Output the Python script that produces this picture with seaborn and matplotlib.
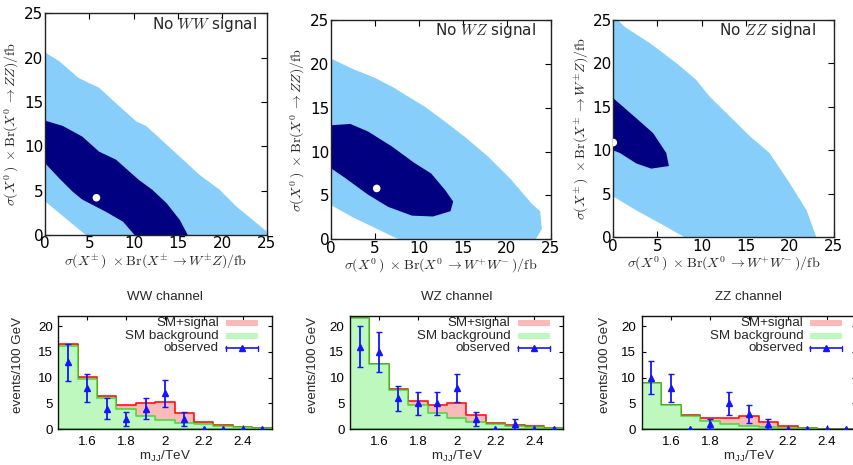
import matplotlib
matplotlib.use("Agg")
import matplotlib.pyplot as plt
from matplotlib.patches import Rectangle
from matplotlib.lines import Line2D
from matplotlib.ticker import FuncFormatter
import numpy as np
import pandas as pd
import seaborn as sns

# ---------------- 2D allowed regions (boundary vertices, in fb) ----------------
# "No WW signal": x = sigma(X+-) Br(WZ), y = sigma(X0) Br(ZZ)
ww_outer_x = [0, 1.6, 3.8, 6.1, 8.4, 10.3, 11.4, 14.8, 17.4, 19.7, 21.6, 25, 25, 4.6, 0]
ww_outer_y = [20.6, 19.6, 17.7, 16.6, 14.5, 12.8, 12.3, 9.2, 6.8, 5.1, 3.2, 0.4, 0, 0, 3.8]
ww_inner_x = [0, 2.0, 4.2, 6.1, 8.0, 10.6, 12.1, 13.7, 15.2, 16.1, 10.1, 8.8, 6.9, 4.2, 3.1, 1.6, 0]
ww_inner_y = [12.9, 12.3, 11.1, 9.4, 8.5, 6.2, 5.1, 3.6, 1.7, 0, 0, 1.5, 2.6, 4.0, 4.9, 6.4, 8.1]
ww_best = (5.8, 4.2)

# "No WZ signal": x = sigma(X0) Br(WW), y = sigma(X0) Br(ZZ)
wz_outer_x = [0, 2.3, 5.0, 7.3, 8.4, 10.7, 13.0, 15.2, 17.9, 20.5, 22.8, 23.8, 24.0, 23.3, 7.7, 5.0, 2.5, 0]
wz_outer_y = [20.6, 19.5, 18.4, 17.2, 16.5, 15.1, 13.4, 11.7, 9.4, 6.8, 4.1, 3.2, 1.2, 0, 0, 1.3, 2.5, 3.9]
wz_inner_x = [0, 2.2, 4.2, 6.9, 9.5, 11.4, 13.0, 13.9, 13.6, 11.6, 9.2, 6.5, 4.2, 1.6, 0]
wz_inner_y = [13.0, 13.15, 12.3, 10.6, 8.7, 7.5, 5.6, 4.3, 3.2, 2.6, 2.7, 3.7, 5.1, 7.0, 8.1]
wz_best = (5.2, 5.8)

# "No ZZ signal": x = sigma(X0) Br(WW), y = sigma(X+-) Br(WZ)
zz_outer_x = [0, 0.5, 1.3, 4.2, 7.2, 9.4, 10.9, 13.2, 15.5, 17.7, 20.0, 21.9, 23.0, 8.1, 5.3, 2.6, 0]
zz_outer_y = [25, 25, 24.2, 22.3, 20.0, 18.1, 16.2, 13.9, 11.6, 9.7, 6.2, 3.1, 0, 0, 1.6, 3.1, 4.7]
zz_inner_x = [0, 2.6, 4.5, 6.0, 6.3, 4.3, 2.6, 0.75, 0]
zz_inner_y = [16.0, 13.7, 12.0, 9.7, 8.2, 7.9, 8.5, 9.7, 10.0]
zz_best = (0.0, 10.9)

# ---------------- dijet mass spectra (events / 100 GeV) ----------------
mass_centers = [1.5, 1.6, 1.7, 1.8, 1.9, 2.0, 2.1, 2.2, 2.3, 2.4, 2.5]

ww_sm_signal = [16.45, 10.1, 6.5, 4.7, 5.1, 5.2, 3.15, 1.35, 0.8, 0.5, 0.3]
ww_sm_bkg = [16.15, 9.75, 6.1, 3.95, 2.6, 1.8, 1.3, 0.95, 0.65, 0.45, 0.25]
ww_obs = [13, 8, 4, 2, 4, 7, 2, 0, 0, 0, 0]
ww_err = [3.6, 2.8, 2.0, 1.4, 2.0, 2.6, 1.4, 0, 0, 0, 0]

wz_sm_signal = [21.6, 12.6, 7.9, 5.5, 4.7, 5.1, 2.8, 1.3, 0.8, 0.6, 0.3]
wz_sm_bkg = [21.6, 12.55, 7.6, 4.7, 3.1, 2.1, 1.4, 1.0, 0.65, 0.45, 0.3]
wz_obs = [16, 15, 6, 5, 5, 8, 2, 0, 1, 0, 0]
wz_err = [4.0, 3.9, 2.4, 2.2, 2.2, 2.8, 1.4, 0, 1.0, 0, 0]

zz_sm_signal = [9.0, 4.8, 2.8, 2.25, 2.1, 2.5, 1.5, 0.65, 0.3, 0.15, 0.1]
zz_sm_bkg = [9.0, 4.8, 2.65, 1.55, 0.95, 0.65, 0.4, 0.25, 0.2, 0.12, 0.08]
zz_obs = [10, 8, 0, 1, 5, 3, 1, 0, 0, 0, 0]
zz_err = [3.2, 2.8, 0, 1.0, 2.2, 1.7, 1.0, 0, 0, 0, 0]

# ---------------- style ----------------
sns.set_style("ticks")
plt.rcParams["font.family"] = ["DejaVu Sans"]
plt.rcParams["mathtext.fontset"] = "cm"

LIGHT = "#87cefa"
DARK = "#000080"
PINK_FILL = "#fbbaba"
GREEN_FILL = "#bef8be"
RED_LINE = "#ff1010"
GREEN_LINE = (0.10, 0.86, 0.10, 0.75)
BLUE = "#1414ff"

W, H = 854, 465
fig = plt.figure(figsize=(W / 100, H / 100), dpi=100)


def add_axes(box):
    l, t, r, b = box
    return fig.add_axes([l / W, 1 - b / H, (r - l) / W, (b - t) / H])


def frac(box, px, py):
    l, t, r, b = box
    return (px - l) / (r - l), (b - py) / (b - t)


lab_wz = r"$\sigma(X^{\pm}\,)\ \times\mathrm{Br}(X^{\pm}\,\rightarrow W^{\pm}Z)/\mathrm{fb}$"
lab_zz = r"$\sigma(X^{0}\,)\ \times\mathrm{Br}(X^{0}\,\rightarrow ZZ)/\mathrm{fb}$"
lab_ww = r"$\sigma(X^{0}\,)\ \times\mathrm{Br}(X^{0}\,\rightarrow W^{+}W^{-}\,)/\mathrm{fb}$"

top_panels = [
    dict(box=(45, 13.3, 266.7, 235), outer=(ww_outer_x, ww_outer_y), inner=(ww_inner_x, ww_inner_y),
         best=ww_best, xlabel=lab_wz, ylabel=lab_zz, tag=r"No $WW$ signal", tag_px=(257, 25), ylab_x=12),
    dict(box=(331, 20, 550.7, 239.3), outer=(wz_outer_x, wz_outer_y), inner=(wz_inner_x, wz_inner_y),
         best=wz_best, xlabel=lab_ww, ylabel=lab_zz, tag=r"No $WZ$ signal", tag_px=(535.7, 30.7), ylab_x=298),
    dict(box=(613.3, 20, 834, 237.3), outer=(zz_outer_x, zz_outer_y), inner=(zz_inner_x, zz_inner_y),
         best=zz_best, xlabel=lab_ww, ylabel=lab_wz, tag=r"No $ZZ$ signal", tag_px=(816, 30.7), ylab_x=582),
]

for p in top_panels:
    box = p["box"]
    ax = add_axes(box)
    ax.fill(p["outer"][0], p["outer"][1], color=LIGHT, lw=0, zorder=1)
    ax.fill(p["inner"][0], p["inner"][1], color=DARK, lw=0, zorder=2)
    sns.scatterplot(x=[p["best"][0]], y=[p["best"][1]], color="white", s=30,
                    edgecolor="none", ax=ax, zorder=3)
    ax.set_xlim(0, 25)
    ax.set_ylim(0, 25)
    ax.set_xticks(range(0, 26, 5))
    ax.set_yticks(range(0, 26, 5))
    ax.tick_params(direction="in", top=True, right=True, length=4, width=0.8,
                   labelsize=11, pad=1, colors="black")
    for s in ax.spines.values():
        s.set_linewidth(1.0)
        s.set_color("#222222")
    ax.set_xlabel(p["xlabel"], fontsize=10, va="center")
    ax.set_ylabel(p["ylabel"], fontsize=10, va="center")
    ax.xaxis.set_label_coords(*frac(box, (box[0] + box[2]) / 2, box[3] + 27))
    ax.yaxis.set_label_coords(*frac(box, p["ylab_x"], (box[1] + box[3]) / 2))
    tx, ty = frac(box, *p["tag_px"])
    ax.text(tx, ty, p["tag"], transform=ax.transAxes, ha="right", va="center", fontsize=11)

# ---------------- lower row: mass spectra ----------------
SANS = ["Liberation Sans", "DejaVu Sans"]
mass_edges = [round(c - 0.05, 2) for c in mass_centers] + [round(mass_centers[-1] + 0.05, 2)]

bottom_panels = [
    dict(box=(58.3, 315.7, 271.7, 429.3), title="WW channel", sig=ww_sm_signal, bkg=ww_sm_bkg,
         obs=ww_obs, err=ww_err, ylab_x=18.3),
    dict(box=(350, 315.7, 563.3, 429.3), title="WZ channel", sig=wz_sm_signal, bkg=wz_sm_bkg,
         obs=wz_obs, err=wz_err, ylab_x=313.3),
    dict(box=(641.7, 315.7, 856, 429.3), title="ZZ channel", sig=zz_sm_signal, bkg=zz_sm_bkg,
         obs=zz_obs, err=zz_err, ylab_x=605),
]

FS = 9.6
for p in bottom_panels:
    box = p["box"]
    ax = add_axes(box)
    df = pd.DataFrame({"m": mass_centers, "sig": p["sig"], "bkg": p["bkg"],
                       "obs": p["obs"], "err": p["err"]})
    sns.histplot(data=df, x="m", weights="sig", bins=mass_edges, element="step", fill=True,
                 facecolor=PINK_FILL, edgecolor=RED_LINE, linewidth=1.2, ax=ax)
    sns.histplot(data=df, x="m", weights="bkg", bins=mass_edges, element="step", fill=True,
                 facecolor=GREEN_FILL, edgecolor=GREEN_LINE, linewidth=1.2, ax=ax)
    nz = df[df["err"] > 0]
    ax.errorbar(nz["m"], nz["obs"], yerr=nz["err"], fmt="none", ecolor=BLUE,
                elinewidth=1.3, capsize=2, capthick=1.0, zorder=4)
    ax.plot(df["m"], df["obs"], ls="none", marker="^", ms=4.5, color=BLUE, mec=BLUE, zorder=5)

    ax.set_xlim(1.45, 2.55)
    ax.set_ylim(0, 22)
    ax.set_xticks([1.6, 1.8, 2.0, 2.2, 2.4])
    ax.set_yticks([0, 5, 10, 15, 20])
    ax.xaxis.set_major_formatter(FuncFormatter(lambda v, _: f"{v:g}"))
    ax.tick_params(direction="in", top=True, right=True, length=3, width=0.8,
                   labelsize=FS, colors="black")
    ax.tick_params(axis="x", pad=5)
    ax.tick_params(axis="y", pad=4)
    for lab in ax.get_xticklabels() + ax.get_yticklabels():
        lab.set_family(SANS)
    for s in ax.spines.values():
        s.set_linewidth(1.0)
        s.set_color("#111111")
    ax.set_xlabel(r"m$_{\mathregular{JJ}}$/TeV", fontsize=FS, family=SANS, va="center")
    ax.set_ylabel("events/100 GeV", fontsize=FS, family=SANS, va="center")
    ax.xaxis.set_label_coords(*frac(box, (box[0] + box[2]) / 2, 456.7))
    ax.yaxis.set_label_coords(*frac(box, p["ylab_x"], 365))
    tx, ty = frac(box, (box[0] + box[2]) / 2, 297.3)
    ax.text(tx, ty, p["title"], transform=ax.transAxes, ha="center", va="center",
            fontsize=FS, family=SANS)

    # key in the upper right corner
    r, t = box[2], box[1]
    text_x = frac(box, r - 52.7, t)[0]
    k0 = frac(box, r - 45.7, t)[0]
    k1 = frac(box, r - 13.7, t)[0]
    rows = [t + 7.6, t + 20.0, t + 32.6]
    hbox = 6.0 / (box[3] - box[1])
    for yy, lab, col in zip(rows[:2], ["SM+signal", "SM background"], [PINK_FILL, GREEN_FILL]):
        fy = frac(box, r, yy)[1]
        ax.text(text_x, fy, lab, transform=ax.transAxes, ha="right", va="center",
                fontsize=FS, family=SANS)
        ax.add_patch(Rectangle((k0, fy - hbox / 2), k1 - k0, hbox, transform=ax.transAxes,
                               facecolor=col, edgecolor="none", clip_on=False, zorder=6))
    fy = frac(box, r, rows[2])[1]
    ax.text(text_x, fy, "observed", transform=ax.transAxes, ha="right", va="center",
            fontsize=FS, family=SANS)
    ax.add_line(Line2D([k0, k1], [fy, fy], transform=ax.transAxes, color=BLUE, lw=1.2,
                       clip_on=False, zorder=6))
    cap = 2.2 / (box[3] - box[1])
    for kx in (k0, k1):
        ax.add_line(Line2D([kx, kx], [fy - cap, fy + cap], transform=ax.transAxes, color=BLUE,
                           lw=1.0, clip_on=False, zorder=6))
    ax.add_line(Line2D([(k0 + k1) / 2], [fy], transform=ax.transAxes, marker="^", ms=4.5,
                       color=BLUE, ls="none", clip_on=False, zorder=7))

fig.savefig("out.png", dpi=100)
